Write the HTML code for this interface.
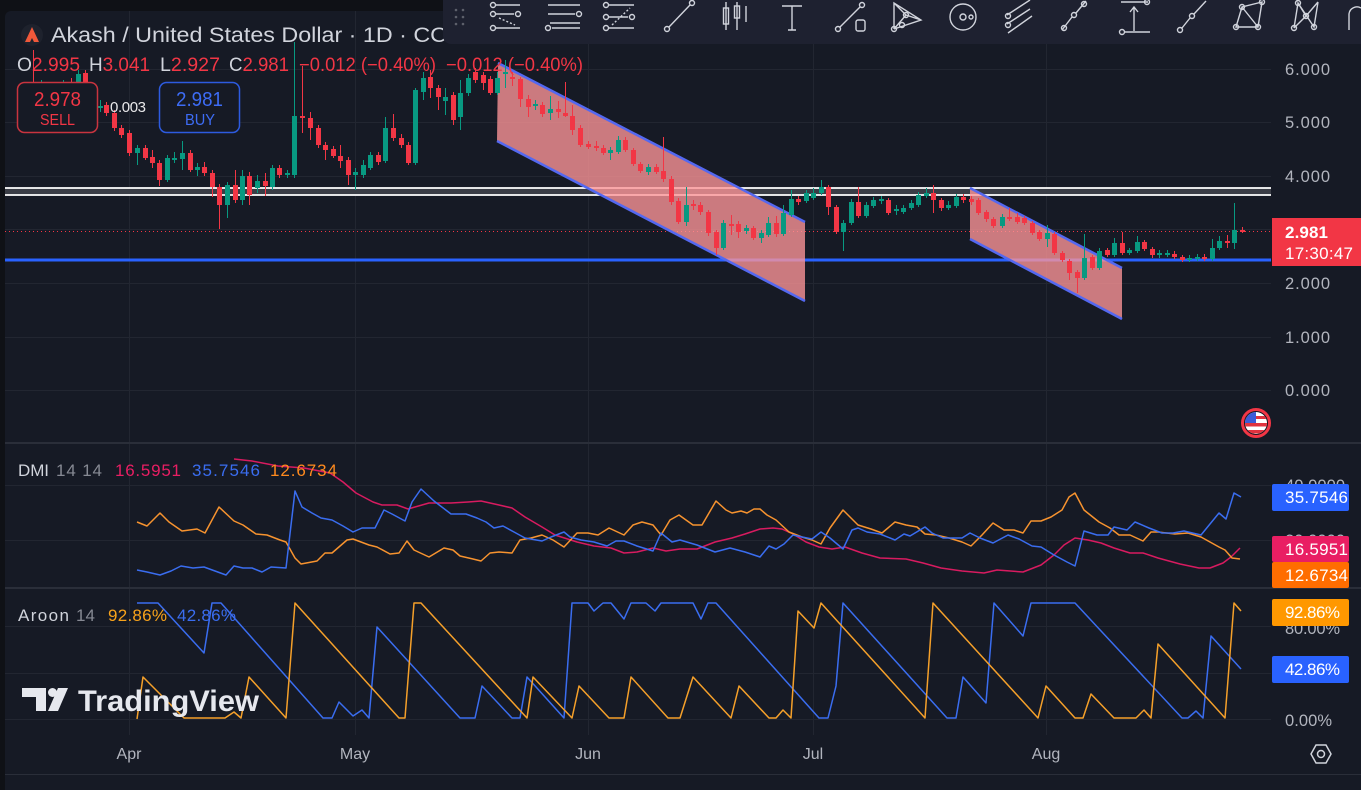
<!DOCTYPE html>
<html><head><meta charset="utf-8"><style>
html,body{margin:0;padding:0;background:#0f1116;}
svg{display:block;}
text{font-family:"Liberation Sans",sans-serif;}
</style></head><body>
<svg width="1361" height="790" viewBox="0 0 1361 790" xmlns="http://www.w3.org/2000/svg">
<defs>
<clipPath id="plot"><rect x="5" y="11" width="1267" height="763"/></clipPath>
<clipPath id="flagc"><circle cx="1256" cy="423" r="11"/></clipPath>
<clipPath id="flagclip"><rect x="1230" y="400" width="41" height="45"/></clipPath>
</defs>
<rect x="0" y="0" width="1361" height="790" fill="#0f1116"/>
<rect x="5" y="11" width="1370" height="790" rx="6" fill="#161a25"/>

<!-- grid -->
<g stroke="#222631" stroke-width="1">
<path d="M129.5,11V735M355.5,11V735M588.5,11V735M813.5,11V735M1046.5,11V735"/>
<path d="M5,69.5H1271M5,122.5H1271M5,176.5H1271M5,229.5H1271M5,283.5H1271M5,337.5H1271M5,390.5H1271"/>
<path d="M5,485.5H1271M5,540.5H1271M5,626.5H1271M5,673.5H1271M5,719.5H1271"/>
</g>
<!-- separators -->
<rect x="5" y="442" width="1356" height="2" fill="#2a2e39"/>
<rect x="5" y="587" width="1356" height="2" fill="#2a2e39"/>
<rect x="5" y="774" width="1356" height="1" fill="#2a2e39"/>

<!-- horizontal drawings -->
<rect x="5" y="188" width="1266" height="7" fill="#3a3d46"/>
<path d="M5,188H1271M5,195H1271" stroke="#ffffff" stroke-width="1.8"/>
<path d="M5,260H1271" stroke="#2962ff" stroke-width="3"/>
<path d="M5,231.5H1271" stroke="#f23645" stroke-width="1" stroke-dasharray="1,3"/>

<!-- channels -->
<polygon points="498,63 805,222 805,301 497,141" fill="rgba(255,150,152,0.78)"/>
<path d="M498,63L805,222M497,141L805,301" stroke="#5468f0" stroke-width="2.5"/>
<polygon points="970,188 1122,268 1122,319 970,239" fill="rgba(255,150,152,0.78)"/>
<path d="M970,188L1122,268M970,239L1122,319" stroke="#5468f0" stroke-width="2.5"/>

<!-- candles -->
<g clip-path="url(#plot)">
<path fill="none" stroke="#089981" stroke-width="1" d="M41.5,80V95M63.5,80V97M78.5,70V88M100.5,100V112M137.5,145V165M167.5,155V182M174.5,152V163M182.5,141V170M197.5,163V176M227.5,182V218M242.5,170V205M257.5,175V193M272.5,165V190M287.5,170V178M294.5,42V178M355.5,168V190M363.5,160V178M370.5,152V170M385.5,117V163M415.5,88V165M423.5,72V100M445.5,88V115M460.5,80V130M468.5,74V96M497.5,72V95M505.5,60V88M535.5,100V110M550.5,96V120M610.5,147V160M618.5,136V154M648.5,164V175M686.5,187V226M723.5,220V250M746.5,225V234M761.5,230V243M768.5,217V237M783.5,205V236M791.5,190V217M806.5,190V203M813.5,188V200M821.5,180V195M843.5,220V251M851.5,199V225M866.5,202V218M873.5,197V208M881.5,196V204M896.5,205V215M903.5,205V214M911.5,200V210M918.5,192V207M926.5,188V198M948.5,201V210M956.5,194V208M1002.5,214V228M1047.5,225V247M1084.5,234V280M1099.5,248V270M1114.5,238V257M1129.5,248V255M1137.5,236V253M1159.5,250V258M1167.5,250V257M1189.5,255V262M1197.5,254V261M1212.5,239V261M1219.5,236V250M1234.5,203V249"/>
<path fill="#089981" d="M39,86h5v6h-5zM61,85h5v10h-5zM76,74h5v10h-5zM98,106h5v2h-5zM135,148h5v5h-5zM165,158h5v22h-5zM172,158h5v2h-5zM180,153h5v6h-5zM195,167h5v3h-5zM225,185h5v20h-5zM240,176h5v24h-5zM255,181h5v7h-5zM270,168h5v19h-5zM285,173h5v2h-5zM292,116h5v59h-5zM353,172h5v3h-5zM361,165h5v10h-5zM368,155h5v13h-5zM383,128h5v33h-5zM413,90h5v73h-5zM421,78h5v14h-5zM443,97h5v4h-5zM458,93h5v24h-5zM466,78h5v15h-5zM495,78h5v15h-5zM503,72h5v2h-5zM533,104h5v2h-5zM548,109h5v4h-5zM608,150h5v3h-5zM616,140h5v12h-5zM646,167h5v5h-5zM684,205h5v17h-5zM721,223h5v25h-5zM744,228h5v3h-5zM759,233h5v5h-5zM766,223h5v12h-5zM781,213h5v21h-5zM789,199h5v16h-5zM804,193h5v8h-5zM811,193h5v5h-5zM819,187h5v6h-5zM841,223h5v9h-5zM849,202h5v21h-5zM864,205h5v11h-5zM871,200h5v6h-5zM879,199h5v2h-5zM894,209h5v2h-5zM901,208h5v4h-5zM909,203h5v5h-5zM916,195h5v10h-5zM924,193h5v3h-5zM946,205h5v3h-5zM954,197h5v9h-5zM1000,217h5v9h-5zM1045,233h5v6h-5zM1082,258h5v20h-5zM1097,251h5v17h-5zM1112,243h5v12h-5zM1127,250h5v3h-5zM1135,242h5v9h-5zM1157,253h5v2h-5zM1165,253h5v2h-5zM1187,258h5v2h-5zM1195,257h5v2h-5zM1210,248h5v11h-5zM1217,241h5v7h-5zM1232,230h5v13h-5z"/>
<path fill="none" stroke="#f23645" stroke-width="1" d="M33.5,50V92M48.5,82V96M56.5,84V100M71.5,78V95M85.5,70V98M93.5,90V106M106.5,102V116M114.5,110V131M121.5,125V138M129.5,130V156M145.5,145V160M152.5,150V168M159.5,160V186M190.5,150V172M204.5,162V176M212.5,170V197M219.5,184V229M235.5,170V203M249.5,172V205M265.5,173V196M279.5,165V178M302.5,66V133M310.5,112V140M318.5,125V148M325.5,142V160M333.5,146V158M340.5,145V168M348.5,157V185M378.5,152V165M393.5,114V141M401.5,134V148M408.5,142V165M430.5,70V98M438.5,85V110M453.5,92V125M475.5,68V83M483.5,72V90M490.5,76V95M512.5,72V86M520.5,77V107M528.5,95V117M542.5,102V117M558.5,101V118M565.5,82V117M572.5,105V135M580.5,125V147M588.5,141V149M596.5,141V151M603.5,145V155M625.5,137V152M633.5,148V166M640.5,162V173M656.5,164V174M663.5,137V182M671.5,176V205M678.5,198V224M693.5,200V210M700.5,202V215M708.5,210V236M716.5,230V255M731.5,215V235M738.5,221V238M753.5,226V240M776.5,216V237M798.5,196V205M828.5,185V215M836.5,205V234M858.5,187V218M888.5,198V215M933.5,185V213M941.5,198V211M963.5,194V203M971.5,196V205M978.5,198V215M986.5,210V222M993.5,217V228M1009.5,208V221M1017.5,213V224M1024.5,216V225M1032.5,221V235M1039.5,230V241M1054.5,232V255M1062.5,251V262M1069.5,259V280M1077.5,270V293M1092.5,255V270M1107.5,248V257M1122.5,232V255M1144.5,240V251M1152.5,247V258M1174.5,251V259M1182.5,255V262M1204.5,254V261M1227.5,235V248M1242.5,227V233"/>
<path fill="#f23645" d="M31,84h5v8h-5zM46,85h5v10h-5zM54,88h5v10h-5zM69,82h5v10h-5zM83,73h5v22h-5zM91,95h5v8h-5zM104,105h5v8h-5zM112,113h5v15h-5zM119,128h5v7h-5zM127,133h5v20h-5zM143,148h5v10h-5zM150,157h5v6h-5zM157,163h5v17h-5zM188,153h5v17h-5zM202,167h5v6h-5zM210,173h5v14h-5zM217,187h5v18h-5zM233,185h5v15h-5zM247,176h5v19h-5zM263,181h5v5h-5zM277,168h5v7h-5zM300,116h5v2h-5zM308,118h5v10h-5zM316,128h5v17h-5zM323,145h5v5h-5zM331,149h5v7h-5zM338,156h5v5h-5zM346,160h5v15h-5zM376,155h5v7h-5zM391,128h5v10h-5zM399,138h5v7h-5zM406,145h5v18h-5zM428,77h5v11h-5zM436,88h5v9h-5zM451,95h5v25h-5zM473,72h5v8h-5zM481,75h5v8h-5zM488,79h5v14h-5zM510,77h5v2h-5zM518,79h5v20h-5zM526,99h5v8h-5zM540,105h5v9h-5zM556,109h5v3h-5zM563,113h5v3h-5zM570,116h5v14h-5zM578,128h5v17h-5zM586,144h5v3h-5zM594,146h5v2h-5zM601,148h5v5h-5zM623,140h5v10h-5zM631,150h5v14h-5zM638,164h5v7h-5zM654,167h5v5h-5zM661,171h5v8h-5zM669,179h5v23h-5zM676,201h5v21h-5zM691,204h5v2h-5zM698,205h5v7h-5zM706,212h5v21h-5zM714,232h5v16h-5zM729,224h5v2h-5zM736,224h5v8h-5zM751,228h5v10h-5zM774,223h5v11h-5zM796,199h5v3h-5zM826,187h5v20h-5zM834,207h5v25h-5zM856,202h5v14h-5zM886,200h5v13h-5zM931,193h5v7h-5zM939,200h5v8h-5zM961,197h5v3h-5zM969,199h5v3h-5zM976,200h5v13h-5zM984,212h5v7h-5zM991,219h5v7h-5zM1007,217h5v2h-5zM1015,217h5v5h-5zM1022,218h5v5h-5zM1030,223h5v10h-5zM1037,232h5v7h-5zM1052,234h5v19h-5zM1060,253h5v7h-5zM1067,261h5v12h-5zM1075,272h5v6h-5zM1090,257h5v11h-5zM1105,250h5v5h-5zM1120,243h5v10h-5zM1142,242h5v7h-5zM1150,249h5v6h-5zM1172,254h5v3h-5zM1180,257h5v3h-5zM1202,257h5v2h-5zM1225,241h5v2h-5zM1240,230h5v2h-5z"/>
</g>

<!-- SELL / BUY boxes -->
<rect x="17.5" y="82.5" width="80" height="50" rx="7" fill="#161a25" stroke="#c9343f" stroke-width="1.5"/>
<text x="34" y="106" font-size="20" fill="#f23645" textLength="47" lengthAdjust="spacingAndGlyphs">2.978</text>
<text x="40" y="125" font-size="16" fill="#f23645" textLength="35" lengthAdjust="spacingAndGlyphs">SELL</text>
<rect x="159.5" y="82.5" width="80" height="50" rx="7" fill="#161a25" stroke="#2d5be0" stroke-width="1.5"/>
<text x="176" y="106" font-size="20" fill="#3d6cf5" textLength="47" lengthAdjust="spacingAndGlyphs">2.981</text>
<text x="185" y="125" font-size="16" fill="#3d6cf5" textLength="30" lengthAdjust="spacingAndGlyphs">BUY</text>
<text x="110" y="112" font-size="15" fill="#e8e8ea" textLength="36">0.003</text>

<!-- header -->
<circle cx="32" cy="35" r="11" fill="#1e222d"/>
<polygon points="32,27 39,42 34,42 32,38 30,42 25,42" fill="#f0583a"/>
<text x="51" y="42" font-size="21" fill="#d1d4dc" textLength="396" lengthAdjust="spacingAndGlyphs">Akash / United States Dollar · 1D · CC</text>
<g font-size="19">
<text x="17" y="71" textLength="63" lengthAdjust="spacingAndGlyphs"><tspan fill="#d1d4dc">O</tspan><tspan fill="#f23645">2.995</tspan></text>
<text x="89" y="71" textLength="61" lengthAdjust="spacingAndGlyphs"><tspan fill="#d1d4dc">H</tspan><tspan fill="#f23645">3.041</tspan></text>
<text x="160" y="71" textLength="60" lengthAdjust="spacingAndGlyphs"><tspan fill="#d1d4dc">L</tspan><tspan fill="#f23645">2.927</tspan></text>
<text x="229" y="71" textLength="60" lengthAdjust="spacingAndGlyphs"><tspan fill="#d1d4dc">C</tspan><tspan fill="#f23645">2.981</tspan></text>
<text x="299" y="71" fill="#f23645" textLength="137" lengthAdjust="spacingAndGlyphs">−0.012 (−0.40%)</text>
<text x="446" y="71" fill="#f23645" textLength="137" lengthAdjust="spacingAndGlyphs">−0.012 (−0.40%)</text>
</g>

<!-- toolbar -->
<rect x="443" y="-10" width="930" height="54" rx="8" fill="#1e2130"/>
<g fill="#5d606b">
<circle cx="456" cy="10" r="1.3"/><circle cx="463" cy="10" r="1.3"/>
<circle cx="456" cy="17" r="1.3"/><circle cx="463" cy="17" r="1.3"/>
<circle cx="456" cy="24" r="1.3"/><circle cx="463" cy="24" r="1.3"/>
</g>
<g fill="none" stroke="#d1d4dc" stroke-width="1.4">
<circle cx="493" cy="5" r="2.5"/><path d="M496,5H520"/>
<circle cx="493" cy="14" r="2.5"/><path d="M496,14H514"/><circle cx="518" cy="14" r="2.5"/>
<circle cx="493" cy="28" r="2.5"/><path d="M496,28H520"/>
<path d="M499,18L515,25" stroke-dasharray="2,2"/>
<path d="M548,5H580M548,14H575M550,23H580M552,28H580"/>
<circle cx="579" cy="14" r="2.5"/><circle cx="548" cy="28" r="2.5"/>
<circle cx="606" cy="5" r="2.5"/><path d="M609,5H634"/>
<circle cx="606" cy="17" r="2.5"/><path d="M609,17H628"/><circle cx="632" cy="17" r="2.5"/>
<circle cx="606" cy="28" r="2.5"/><path d="M609,28H634"/>
<path d="M612,25L630,8" stroke-dasharray="2,2"/>
<circle cx="667" cy="29" r="2.5"/><circle cx="692" cy="3" r="2.5"/><path d="M669,27L690,5"/>
<path d="M726,2V30M737,2V30M746,6V22"/><rect x="723.5" y="8" width="5" height="16"/><rect x="734.5" y="6" width="5" height="12"/>
<path d="M782,6H802M792,6V30M788,30H796"/>
<circle cx="838" cy="29" r="2.5"/><circle cx="862" cy="5" r="2.5"/><path d="M840,27L860,7"/><rect x="856" y="20" width="9" height="11" rx="2"/>
<path d="M894,29V3L921,20L894,29M894,3L906,15L894,29M906,15L921,20"/>
<circle cx="894" cy="29" r="2.5"/><circle cx="906" cy="15" r="2.5"/><circle cx="902" cy="25" r="2.5"/>
<circle cx="963" cy="17" r="13"/><circle cx="963" cy="17" r="3"/><circle cx="971" cy="17" r="2"/>
<path d="M1007,15L1030,0M1007,24L1030,9M1008,33L1032,16"/><circle cx="1008" cy="16" r="2.5"/><circle cx="1008" cy="25" r="2.5"/>
<path d="M1062,30L1072,17M1076,13L1086,1"/><circle cx="1064" cy="28" r="2.5"/><circle cx="1074" cy="15" r="2.5"/><circle cx="1084" cy="4" r="2.5"/>
<path d="M1121,2H1148M1134,8V31M1130,12L1134,7L1138,12M1124,32H1150"/><circle cx="1122" cy="32" r="2.5"/><circle cx="1147" cy="2" r="2.5"/>
<path d="M1182,28L1190,18M1194,14L1206,1"/><circle cx="1180" cy="30" r="2.5"/><circle cx="1192" cy="16" r="2.5"/>
<path d="M1236,27L1242,7L1262,2L1258,27Z M1242,7L1258,27"/><circle cx="1236" cy="27" r="2.5"/><circle cx="1242" cy="7" r="2.5"/><circle cx="1262" cy="2" r="2.5"/><circle cx="1258" cy="27" r="2.5"/>
<path d="M1294,28L1298,3L1314,27L1318,2M1298,3L1306,16L1294,28M1306,16L1318,2"/><circle cx="1294" cy="28" r="2.5"/><circle cx="1298" cy="3" r="2.5"/><circle cx="1306" cy="16" r="2.5"/><circle cx="1314" cy="27" r="2.5"/>
<path d="M1349,30V14A8,8 0 0 1 1361,8"/>
</g>

<!-- price axis -->
<g font-size="16.5" fill="#b2b5be">
<text x="1285" y="75" textLength="45">6.000</text>
<text x="1285" y="128" textLength="45">5.000</text>
<text x="1285" y="182" textLength="45">4.000</text>
<text x="1285" y="289" textLength="45">2.000</text>
<text x="1285" y="343" textLength="45">1.000</text>
<text x="1285" y="396" textLength="45">0.000</text>
</g>
<rect x="1272" y="218" width="89" height="48" fill="#f23645"/>
<text x="1285" y="238" font-size="17" font-weight="bold" fill="#ffffff" textLength="43">2.981</text>
<text x="1285" y="259" font-size="17" fill="#ffffff" textLength="68">17:30:47</text>

<!-- flag -->
<g clip-path="url(#flagclip)">
<circle cx="1256" cy="423" r="13.5" fill="#131722" stroke="#f23645" stroke-width="3"/>
<g clip-path="url(#flagc)">
<rect x="1244" y="411" width="24" height="24" fill="#ffffff"/>
<rect x="1244" y="423" width="24" height="3.5" fill="#e0323e"/>
<rect x="1244" y="430" width="24" height="3.5" fill="#e0323e"/>
<rect x="1244" y="416" width="24" height="3" fill="#e0323e"/>
<rect x="1244" y="411" width="12" height="12" fill="#3c5bd6"/>
</g>
</g>

<!-- DMI pane -->
<g fill="none" stroke-width="1.5" stroke-linejoin="round">
<polyline stroke="#d81b60" points="234,459 252,461 278,466 304,468 330,473 343,482 356,493 373,502 382,505 397,505 408,509 429,503 451,503 468,502 481,501 499,505 512,508 525,517 542,527 555,535 577,542 594,546 611,548 624,553 637,552 653,548 666,551 680,549 697,549 715,542 732,538 745,534 760,529 773,528 782,529 793,534 806,542 819,547 832,549 845,547 862,553 880,558 906,559 923,563 941,568 962,571 984,573 997,570 1023,572 1041,565 1054,555 1064,545 1075,538 1088,540 1101,543 1114,548 1130,553 1143,553 1158,558 1180,564 1199,568 1210,568 1223,563 1231,557 1240,548"/>
<polyline stroke="#f7932f" points="137,522 147,526 160,513 169,522 182,531 197,529 205,533 219,507 234,521 243,525 256,534 267,535 280,540 286,542 295,558 301,564 317,561 325,553 332,553 347,540 353,539 369,545 377,547 390,554 399,553 407,541 414,550 429,557 444,548 453,550 460,556 473,559 481,561 490,553 499,552 512,553 520,540 531,538 542,535 553,540 564,547 577,533 588,533 598,535 609,528 624,535 633,525 642,522 653,525 661,535 670,520 679,515 693,525 702,525 716,501 726,510 732,513 741,511 747,513 754,509 760,509 767,515 776,520 789,532 802,537 812,540 821,544 830,528 843,510 858,525 871,529 882,533 895,522 906,525 917,527 925,534 936,535 949,538 962,542 971,546 982,535 993,523 1004,530 1014,530 1023,533 1031,521 1041,521 1051,517 1062,510 1069,497 1075,493 1084,510 1099,522 1110,528 1119,535 1130,535 1143,541 1151,532 1158,532 1175,534 1188,533 1201,537 1219,547 1225,550 1232,558 1240,559"/>
<polyline stroke="#3a6df0" points="137,570 147,572 160,575 171,571 181,566 193,568 204,567 215,571 226,575 234,566 243,568 252,568 262,572 271,567 286,568 295,491 302,507 312,513 321,518 332,520 343,526 353,532 362,528 375,528 384,510 392,514 405,521 412,502 421,489 434,501 451,514 466,514 477,518 486,522 494,528 503,526 514,532 525,538 542,541 551,537 564,532 570,537 581,540 594,542 607,546 616,541 624,541 637,546 653,551 661,533 672,542 680,540 697,545 715,552 730,548 745,552 760,557 769,546 776,549 784,544 793,535 802,537 812,539 821,532 830,538 843,549 852,530 858,528 867,532 880,534 895,540 904,534 910,536 925,527 932,533 943,538 954,538 962,538 970,533 980,538 993,543 1008,535 1019,539 1032,546 1041,547 1054,555 1067,562 1075,566 1084,531 1097,535 1108,535 1114,527 1127,530 1135,522 1149,528 1162,533 1173,533 1184,531 1201,535 1219,513 1226,519 1234,493 1241,497"/>
</g>
<g font-size="17">
<text x="18" y="476" fill="#d1d4dc" textLength="31">DMI</text>
<text x="56" y="476" fill="#868993" textLength="46">14 14</text>
<text x="115" y="476" fill="#e91e63" textLength="66">16.5951</text>
<text x="192" y="476" fill="#3a6df0" textLength="68">35.7546</text>
<text x="270" y="476" fill="#ff8a1e" textLength="67">12.6734</text>
</g>
<g font-size="16.5" fill="#b2b5be">
<text x="1285" y="491" textLength="60">40.0000</text>
<text x="1285" y="546" textLength="60">20.0000</text>
</g>
<rect x="1272" y="484" width="77" height="27" rx="2" fill="#2962ff"/>
<text x="1285" y="503" font-size="17" fill="#ffffff" textLength="63">35.7546</text>
<rect x="1272" y="536" width="77" height="26" rx="2" fill="#e91e63"/>
<text x="1285" y="555" font-size="17" fill="#ffffff" textLength="63">16.5951</text>
<rect x="1272" y="562" width="77" height="26" rx="2" fill="#ff6d00"/>
<text x="1285" y="581" font-size="17" fill="#ffffff" textLength="63">12.6734</text>

<!-- Aroon pane -->
<g fill="none" stroke-width="1.5" stroke-linejoin="round">
<polyline stroke="#3a6df0" points="137,603 158,603 204,653 212,603 221,603 323,718 332,718 339,702 353,716 362,710 369,718 377,627 460,718 475,718 482,686 512,718 520,718 527,677 564,718 572,603 588,603 594,611 603,603 611,603 624,619 631,603 646,603 655,611 661,603 693,603 701,619 708,603 716,603 819,718 828,718 836,686 843,603 947,718 956,718 963,677 986,703 994,603 1023,636 1031,603 1075,603 1182,718 1188,718 1196,711 1203,718 1211,636 1241,669"/>
<polyline stroke="#f5a02a" points="137,719 143,677 184,718 225,718 234,712 241,718 249,677 286,718 295,603 399,718 405,718 414,603 421,603 527,718 533,677 572,718 579,686 609,718 624,718 631,677 668,718 680,718 693,677 731,718 739,686 769,718 776,718 783,710 791,718 798,611 814,628 821,603 925,718 933,603 1038,718 1046,686 1075,718 1083,718 1091,694 1114,718 1136,718 1144,710 1151,718 1158,644 1225,718 1234,603 1241,611"/>
</g>
<g font-size="17">
<text x="18" y="621" fill="#d1d4dc" textLength="51">Aroon</text>
<text x="76" y="621" fill="#868993" textLength="19">14</text>
<text x="108" y="621" fill="#f7a21b" textLength="59">92.86%</text>
<text x="177" y="621" fill="#3a6df0" textLength="59">42.86%</text>
</g>
<g font-size="16.5" fill="#b2b5be">
<text x="1285" y="634" textLength="55">80.00%</text>
<text x="1285" y="726" textLength="47">0.00%</text>
</g>
<rect x="1272" y="599" width="77" height="27" rx="2" fill="#ff9800"/>
<text x="1285" y="618" font-size="17" fill="#ffffff" textLength="55">92.86%</text>
<rect x="1272" y="656" width="77" height="27" rx="2" fill="#2962ff"/>
<text x="1285" y="675" font-size="17" fill="#ffffff" textLength="55">42.86%</text>

<!-- TradingView watermark -->
<g fill="#e6e8ee">
<polygon points="22,688 46,688 46,711 36,711 36,697 22,697"/>
<circle cx="52.5" cy="692.5" r="4.5"/>
<polygon points="58,688 68,688 58,711 48,711"/>
</g>
<text x="78" y="711" font-size="30" font-weight="bold" fill="#e6e8ee" textLength="181" lengthAdjust="spacingAndGlyphs">TradingView</text>

<!-- time axis -->
<g font-size="16" fill="#b2b5be" text-anchor="middle">
<text x="129" y="759">Apr</text>
<text x="355" y="759">May</text>
<text x="588" y="759">Jun</text>
<text x="813" y="759">Jul</text>
<text x="1046" y="759">Aug</text>
</g>
<g fill="none" stroke="#d1d4dc" stroke-width="1.5">
<polygon points="1316,745 1326,745 1331,754 1326,763 1316,763 1311,754"/>
<circle cx="1321" cy="754" r="3.5"/>
</g>
</svg>
</body></html>
